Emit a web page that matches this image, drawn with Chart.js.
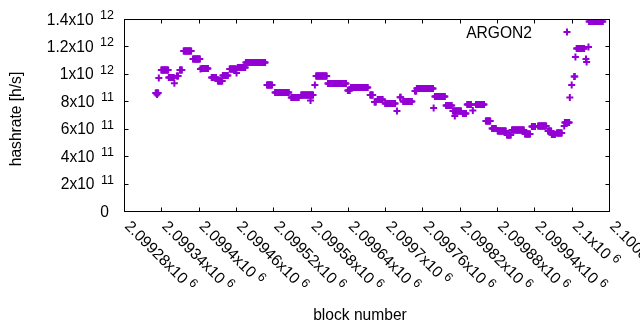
<!DOCTYPE html>
<html>
<head>
<meta charset="utf-8">
<script src="https://cdn.jsdelivr.net/npm/chart.js@4/dist/chart.umd.min.js"></script>
<style>
  body { margin: 0; background: #fff; }
  #wrap { width: 640px; height: 330px; }
</style>
</head>
<body>
<div id="wrap"><canvas id="grafico" width="640" height="330"></canvas></div>
<script>
// stretches of blocks where the hashrate stays the same (first block, last block, h/s)
const runFirst = [2099331, 2099340, 2099352, 2099365, 2099370, 2099376, 2099391, 2099405, 2099421, 2099431,
                  2099439, 2099450, 2099463, 2099476, 2099510, 2099523, 2099549, 2099565, 2099589, 2099608,
                  2099640, 2099645, 2099676, 2099683, 2099688, 2099700, 2099724, 2099729, 2099748, 2099751,
                  2099780, 2099798, 2099809, 2099825, 2099832, 2099846, 2099862, 2099872, 2099881, 2099896,
                  2099904, 2099925, 2099936, 2099946, 2099962, 2099968, 2099976, 2099988, 2099989, 2100004,
                  2100008, 2100028];
const runLast  = [2099335, 2099351, 2099360, 2099367, 2099373, 2099388, 2099402, 2099415, 2099428, 2099438,
                  2099447, 2099460, 2099475, 2099507, 2099518, 2099545, 2099561, 2099584, 2099606, 2099637,
                  2099643, 2099672, 2099680, 2099685, 2099696, 2099716, 2099725, 2099743, 2099750, 2099777,
                  2099796, 2099807, 2099822, 2099830, 2099838, 2099859, 2099869, 2099878, 2099894, 2099902,
                  2099923, 2099933, 2099941, 2099959, 2099967, 2099973, 2099984, 2099988, 2099996, 2100005,
                  2100020, 2100050];
const runRate  = [8.60e11, 10.28e11, 9.74e11, 9.85e11, 10.28e11, 11.67e11, 11.09e11, 10.39e11, 9.74e11, 9.48e11,
                  9.88e11, 10.36e11, 10.47e11, 10.83e11, 9.19e11, 8.64e11, 8.28e11, 8.46e11, 9.85e11, 9.30e11,
                  8.79e11, 9.00e11, 8.46e11, 7.95e11, 8.13e11, 7.84e11, 8.30e11, 7.99e11, 8.75e11, 8.93e11,
                  8.35e11, 7.70e11, 7.29e11, 7.11e11, 7.77e11, 7.77e11, 6.56e11, 6.02e11, 5.83e11, 5.54e11,
                  5.90e11, 5.62e11, 6.16e11, 6.20e11, 5.83e11, 5.58e11, 5.69e11, 6.20e11, 6.46e11, 9.81e11,
                  11.85e11, 13.82e11];

// single blocks off their stretch
const oddBlock = [2099333, 2099336, 2099361, 2099403, 2099461, 2099580, 2099587, 2099719, 2099778, 2099812,
                  2099841, 2099997, 2100000, 2100006, 2100023, 2100024, 2100027];
const oddRate  = [8.50e11, 9.70e11, 9.31e11, 10.36e11, 10.07e11, 8.06e11, 9.19e11, 7.29e11, 7.51e11, 6.93e11,
                  7.33e11, 8.28e11, 9.19e11, 11.23e11, 11.09e11, 10.87e11, 11.96e11];

const xTickValues = [2099280, 2099340, 2099400, 2099460, 2099520, 2099580, 2099640, 2099700, 2099760, 2099820,
                     2099880, 2099940, 2100000, 2100060];
const xTickLabels = ['2.09928x10', '2.09934x10', '2.0994x10', '2.09946x10', '2.09952x10', '2.09958x10', '2.09964x10',
                     '2.0997x10', '2.09976x10', '2.09982x10', '2.09988x10', '2.09994x10', '2.1x10', '2.10006x10'];
const xTickExp = '6';

const yTickValues = [0, 2e11, 4e11, 6e11, 8e11, 1e12, 1.2e12, 1.4e12];
const yTickLabels = ['0', '2x10', '4x10', '6x10', '8x10', '1x10', '1.2x10', '1.4x10'];
const yTickExp    = ['', '11', '11', '11', '11', '12', '12', '12'];

const morado = '#9400d3';
const fuente = 'Liberation Sans, Arial, sans-serif';
const grande = '15.6px ';
const chica = '12.5px ';

const puntos = [];
for (let i = 0; i < runFirst.length; i++) {
    for (let b = runFirst[i]; b <= runLast[i]; b++) {
        puntos.push({ x: b, y: runRate[i] });
    }
}
for (let i = 0; i < oddBlock.length; i++) {
    puntos.push({ x: oddBlock[i], y: oddRate[i] });
}

// gnuplot-like frame, inward ticks, labels with raised exponents, key at top right
const marco = {
    id: 'marco',
    afterDraw(chart) {
        const ctx = chart.ctx;
        const a = chart.chartArea;
        const x = chart.scales.x;
        const y = chart.scales.y;
        const L = Math.round(a.left) + 0.5, R = Math.round(a.right) + 0.5;
        const T = Math.round(a.top) + 0.5, B = Math.round(a.bottom) + 0.5;
        ctx.save();
        ctx.strokeStyle = '#000';
        ctx.lineWidth = 1;
        ctx.strokeRect(L, T, R - L, B - T);

        ctx.beginPath();
        xTickValues.forEach(v => {
            const px = Math.round(x.getPixelForValue(v)) + 0.5;
            ctx.moveTo(px, B); ctx.lineTo(px, B - 4);
            ctx.moveTo(px, T); ctx.lineTo(px, T + 4);
        });
        yTickValues.forEach(v => {
            const py = Math.round(y.getPixelForValue(v)) + 0.5;
            ctx.moveTo(L, py); ctx.lineTo(L + 4, py);
            ctx.moveTo(R, py); ctx.lineTo(R - 4, py);
        });
        ctx.stroke();

        ctx.fillStyle = '#000';
        ctx.textBaseline = 'alphabetic';
        yTickValues.forEach((v, i) => {
            const py = y.getPixelForValue(v);
            ctx.textAlign = 'right';
            if (yTickExp[i]) {
                ctx.font = chica + fuente;
                ctx.fillText(yTickExp[i], 114, py);
                const ew = ctx.measureText(yTickExp[i]).width;
                ctx.font = grande + fuente;
                ctx.fillText(yTickLabels[i], 114 - ew - 6.5, py + 5.5);
            } else {
                ctx.font = grande + fuente;
                ctx.fillText(yTickLabels[i], 109, py + 5.5);
            }
        });

        xTickValues.forEach((v, i) => {
            const px = x.getPixelForValue(v);
            ctx.save();
            ctx.translate(px, 227);
            ctx.rotate(Math.PI / 4);
            ctx.textAlign = 'left';
            ctx.font = grande + fuente;
            ctx.fillText(xTickLabels[i], 0, 0);
            const w = ctx.measureText(xTickLabels[i]).width;
            ctx.font = chica + fuente;
            ctx.fillText(xTickExp, w + 4, -5.5);
            ctx.restore();
        });

        ctx.font = grande + fuente;
        ctx.textAlign = 'center';
        ctx.textBaseline = 'middle';
        ctx.fillText('block number', 360, 316);
        ctx.save();
        ctx.translate(17, 119);
        ctx.rotate(-Math.PI / 2);
        ctx.fillText('hashrate [h/s]', 0, 0);
        ctx.restore();

        // key
        const ds = chart.data.datasets[0];
        ctx.textAlign = 'right';
        ctx.textBaseline = 'alphabetic';
        ctx.fillText(ds.label, 532, 37.5);
        ctx.strokeStyle = morado;
        ctx.lineWidth = 2;
        ctx.beginPath();
        ctx.moveTo(567 - 3.5, 32); ctx.lineTo(567 + 3.5, 32);
        ctx.moveTo(567, 32 - 3.5); ctx.lineTo(567, 32 + 3.5);
        ctx.stroke();
        ctx.restore();
    }
};

const ctx = document.getElementById('grafico');
new Chart(ctx, {
    type: 'scatter',
    data: {
        datasets: [{
            label: 'ARGON2',
            data: puntos,
            pointStyle: 'cross',
            pointRadius: 3.5,
            pointHoverRadius: 3.5,
            borderWidth: 2,
            borderColor: morado,
            backgroundColor: morado
        }]
    },
    options: {
        responsive: false,
        animation: false,
        layout: { padding: { left: 124, right: 31, top: 19, bottom: 119 } },
        plugins: { legend: { display: false }, tooltip: { enabled: false } },
        scales: {
            x: {
                type: 'linear',
                min: 2099280,
                max: 2100060,
                ticks: { display: false, stepSize: 60 },
                grid: { display: false, drawTicks: false },
                border: { display: false }
            },
            y: {
                min: 0,
                max: 1.4e12,
                ticks: { display: false, stepSize: 2e11 },
                grid: { display: false, drawTicks: false },
                border: { display: false }
            }
        }
    },
    plugins: [marco]
});
</script>
</body>
</html>
